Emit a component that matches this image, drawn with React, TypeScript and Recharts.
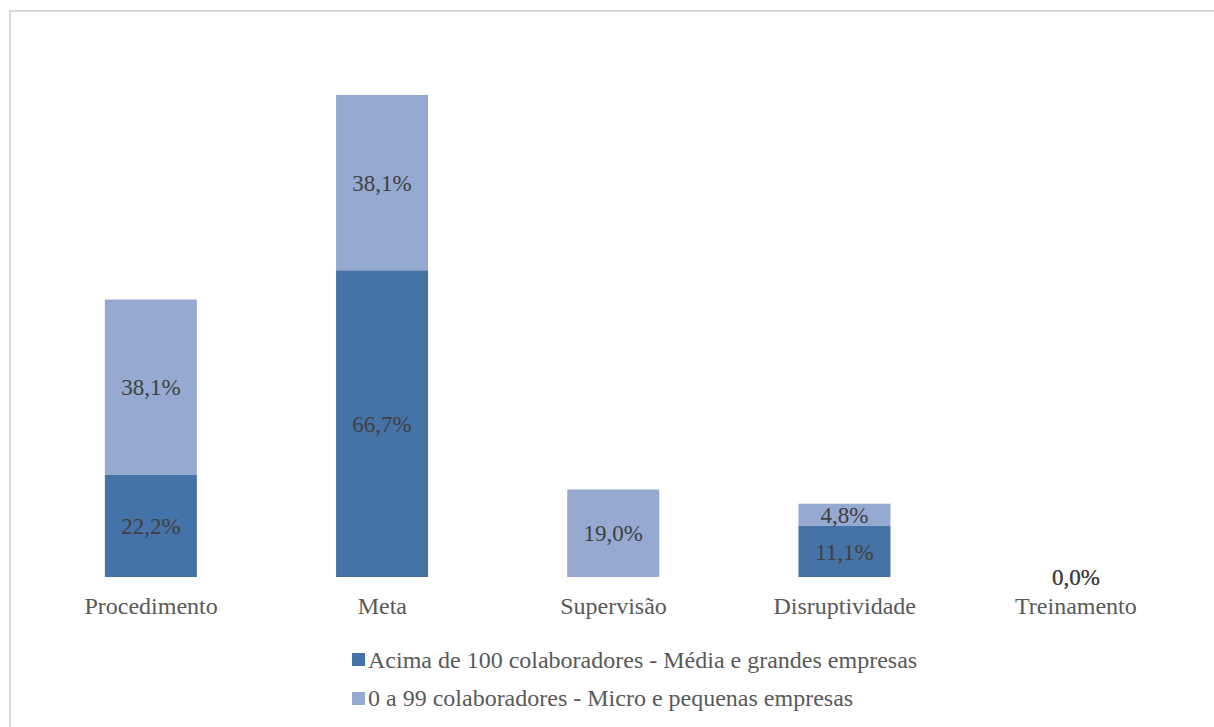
import React from 'react';
import { ComposedChart, Bar, Line, XAxis, YAxis, Legend, LabelList } from 'recharts';

const categories = ['Procedimento', 'Meta', 'Supervisão', 'Disruptividade', 'Treinamento'];
const acima100: (number | null)[] = [22.2, 66.7, null, 11.1, 0];
const ate99: (number | null)[] = [38.1, 38.1, 19.0, 4.8, 0];
const seriesNames = [
  'Acima de 100 colaboradores - Média e grandes empresas',
  '0 a 99 colaboradores - Micro e pequenas empresas',
];
const seriesColors = ['#4572A7', '#95A9D1'];

// zero-valued stacks have no visible rectangle; their labels are carried by a transparent line
const data = categories.map((c, i) => ({
  name: c,
  a: acima100[i],
  b: ate99[i],
  z: acima100[i] === 0 && ate99[i] === 0 ? 0 : null,
}));

const FONT = 'Liberation Serif';
const FS = 24;
const LFS = 23;

const fmt = (v: any) => (v === null || v === undefined ? '' : Number(v).toFixed(1).replace('.', ',') + '%');

const ZeroLabel = (p: any) => {
  if (p.value === null || p.value === undefined) return null;
  const t = fmt(p.value);
  return (
    <g>
      {[0, 1].map((k) => (
        <text
          key={k}
          x={p.x}
          y={p.y}
          textAnchor="middle"
          dominantBaseline="central"
          fill="#404040"
          fontSize={LFS}
          fontFamily={FONT}
        >
          {t}
        </text>
      ))}
    </g>
  );
};

const LegendContent = () => (
  <div style={{ fontFamily: FONT, fontSize: FS, color: '#595959', paddingLeft: 352 }}>
    {seriesNames.map((n, i) => (
      <div key={n} style={{ height: 38.5, lineHeight: '38.5px', display: 'flex', alignItems: 'center' }}>
        <span style={{ display: 'inline-block', width: 13, height: 13, background: seriesColors[i], marginRight: 3 }} />
        <span>{n}</span>
      </div>
    ))}
  </div>
);

export default function App() {
  return (
    <div style={{ position: 'absolute', left: 0, top: 0, width: 1214, height: 727, overflow: 'hidden', background: '#fff' }}>
      <div
        style={{
          position: 'absolute',
          left: 9,
          top: 10,
          width: 1205,
          height: 717,
          borderTop: '2px solid #d9d9d9',
          borderLeft: '2px solid #d9d9d9',
          boxSizing: 'border-box',
        }}
      />
      <div style={{ position: 'absolute', left: 0, top: 0 }}>
        <ComposedChart
          width={1214}
          height={727}
          data={data}
          margin={{ top: 71, right: 22.5, left: 35.5, bottom: 10 }}
          barCategoryGap="30%"
        >
          <XAxis
            dataKey="name"
            axisLine={false}
            tickLine={false}
            height={40}
            tickMargin={14}
            interval={0}
            tick={{ fill: '#595959', fontSize: FS, fontFamily: FONT }}
          />
          <YAxis hide domain={[0, 110]} width={0} />
          <Legend
            verticalAlign="bottom"
            height={100}
            content={<LegendContent />}
            wrapperStyle={{ position: 'absolute', left: 0, top: 640.5, width: 1214 }}
          />
          <Bar dataKey="a" stackId="s" name={seriesNames[0]} fill={seriesColors[0]} isAnimationActive={false}>
            <LabelList dataKey="a" position="center" formatter={fmt} fill="#404040" fontSize={LFS} fontFamily={FONT} />
          </Bar>
          <Bar dataKey="b" stackId="s" name={seriesNames[1]} fill={seriesColors[1]} isAnimationActive={false}>
            <LabelList dataKey="b" position="center" formatter={fmt} fill="#404040" fontSize={LFS} fontFamily={FONT} />
          </Bar>
          <Line
            dataKey="z"
            stroke="none"
            dot={false}
            activeDot={false}
            legendType="none"
            isAnimationActive={false}
          >
            <LabelList dataKey="z" content={<ZeroLabel />} />
          </Line>
        </ComposedChart>
      </div>
    </div>
  );
}
